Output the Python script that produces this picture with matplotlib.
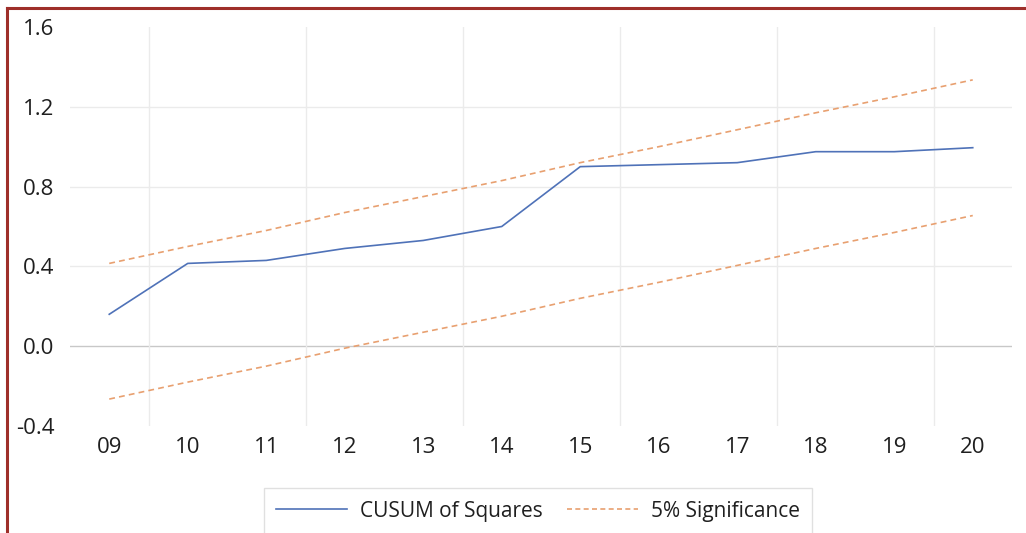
import matplotlib
matplotlib.use("Agg")
import matplotlib.pyplot as plt
from matplotlib.lines import Line2D

# Data
years = ["09", "10", "11", "12", "13", "14", "15", "16", "17", "18", "19", "20"]
cusum_sq = [0.16, 0.415, 0.43, 0.49, 0.53, 0.60, 0.90, 0.91, 0.92, 0.975, 0.975, 0.995]
upper_5 = [0.415, 0.50, 0.58, 0.67, 0.75, 0.83, 0.92, 1.00, 1.085, 1.17, 1.25, 1.335]
lower_5 = [-0.265, -0.18, -0.10, -0.01, 0.07, 0.15, 0.24, 0.32, 0.405, 0.49, 0.57, 0.655]
y_ticks = [-0.4, 0.0, 0.4, 0.8, 1.2, 1.6]

blue = "#4f72b8"
orange = "#e8a070"
txt = "#1f1f1f"

plt.rcParams["font.family"] = ["Open Sans", "DejaVu Sans"]

fig = plt.figure(figsize=(10.26, 5.33), dpi=100)
ax = fig.add_axes([70 / 1026, 1 - 426 / 533, (1012 - 70) / 1026, (426 - 27) / 533])

x = list(range(len(years)))

# grid
for yv in [0.4, 0.8, 1.2]:
    ax.axhline(yv, color="#ebebeb", lw=1, zorder=0)
ax.axhline(0.0, color="#c8c8c8", lw=1, zorder=0)
for xv in [0.5, 2.5, 4.5, 6.5, 8.5, 10.5]:
    ax.axvline(xv, color="#ebebeb", lw=1, zorder=0)

ax.plot(x, cusum_sq, color=blue, lw=1.2, zorder=3)
ax.plot(x, upper_5, color=orange, lw=1.2, ls=(0, (3.5, 2.5)), zorder=2)
ax.plot(x, lower_5, color=orange, lw=1.2, ls=(0, (3.5, 2.5)), zorder=2)

ax.set_xlim(-0.5, 11.5)
ax.set_ylim(-0.4, 1.6)
ax.set_xticks(x)
ax.set_xticklabels(years)
ax.set_yticks(y_ticks)
ax.set_yticklabels([f"{v:.1f}" for v in y_ticks])
ax.tick_params(axis="both", length=0, labelsize=16, colors=txt)
ax.tick_params(axis="x", pad=8)
ax.tick_params(axis="y", pad=11)
for s in ax.spines.values():
    s.set_visible(False)

handles = [Line2D([], [], color=blue, lw=1.2),
           Line2D([], [], color=orange, lw=1.2, ls=(0, (3, 2)))]
leg = fig.legend(handles, ["CUSUM of Squares", "5% Significance"],
                 loc="center", bbox_to_anchor=(538 / 1026, 1 - 511 / 533),
                 ncol=2, fontsize=15, frameon=True, fancybox=False,
                 handlelength=3.4, handletextpad=0.6, columnspacing=1.2,
                 borderpad=0.6)
leg.get_frame().set_edgecolor("#d9d9d9")
leg.get_frame().set_linewidth(1)
for t in leg.get_texts():
    t.set_color(txt)

# dark red border on top and left
border = "#9e2f2a"
fig.add_artist(Line2D([7 / 1026, 1], [1 - 8 / 533, 1 - 8 / 533], color=border, lw=2.2,
                      transform=fig.transFigure))
fig.add_artist(Line2D([7 / 1026, 7 / 1026], [0, 1 - 8 / 533], color=border, lw=2.2,
                      transform=fig.transFigure))

fig.savefig("out.png", dpi=100)
